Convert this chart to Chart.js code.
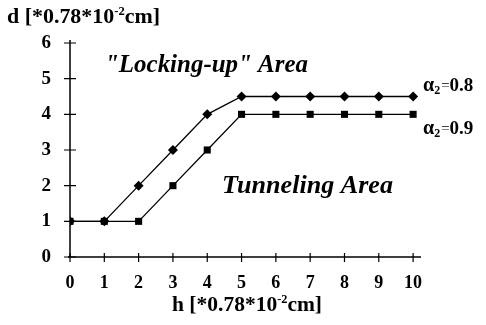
<!doctype html>
<html lang="en">
<head>
    <meta charset="utf-8">
    <title>Locking-up / Tunneling</title>
    <script src="https://cdn.jsdelivr.net/npm/chart.js"></script>
    <style>
        html, body { margin: 0; padding: 0; background: #fff; }
        #wrap { width: 486px; height: 325px; }
    </style>
</head>
<body>
    <div id="wrap"><canvas id="chartEl" width="486" height="325"></canvas></div>
    <script>
        // data
        const hValues = [0, 1, 2, 3, 4, 5, 6, 7, 8, 9, 10];
        const dAlpha08 = [1, 1, 2, 3, 4, 4.5, 4.5, 4.5, 4.5, 4.5, 4.5];
        const dAlpha09 = [1, 1, 1, 2, 3, 4, 4, 4, 4, 4, 4];
        const xTicks = [0, 1, 2, 3, 4, 5, 6, 7, 8, 9, 10];
        const yTicks = [0, 1, 2, 3, 4, 5, 6];
        const seriesLabels = ['0.8', '0.9'];

        const SERIF = '"Liberation Serif", "DejaVu Serif", serif';

        const toPoints = (ys) => hValues.map((x, i) => ({ x, y: ys[i] }));

        // text with a raised "-2" like 10^-2, stretched to a target width
        const drawUnitLabel = (ctx, prefix, x, y, align, width) => {
            const big = 'bold 21px ' + SERIF;
            const small = 'bold 12px ' + SERIF;
            const a = prefix + ' [*0.78*10';
            const b = '-2';
            const c = 'cm]';
            ctx.font = big; const wa = ctx.measureText(a).width; const wc = ctx.measureText(c).width;
            ctx.font = small; const wb = ctx.measureText(b).width;
            const total = wa + wb + wc;
            const k = width / total;
            const sx = align === 'center' ? x - width / 2 : x;
            ctx.save();
            ctx.translate(sx, y);
            ctx.scale(k, 1);
            ctx.textAlign = 'left';
            ctx.textBaseline = 'alphabetic';
            ctx.font = big; ctx.fillText(a, 0, 0);
            ctx.font = small; ctx.fillText(b, wa, -8);
            ctx.font = big; ctx.fillText(c, wa + wb, 0);
            ctx.restore();
        };

        const drawAlphaLabel = (ctx, val, x, y) => {
            ctx.textAlign = 'left';
            ctx.textBaseline = 'middle';
            ctx.font = 'bold 20px ' + SERIF;
            ctx.fillText('\u03b1', x, y);
            const w1 = ctx.measureText('\u03b1').width;
            ctx.font = 'bold 12px ' + SERIF;
            ctx.fillText('2', x + w1, y + 5);
            const w2 = ctx.measureText('2').width;
            ctx.font = '15px ' + SERIF;
            ctx.fillText('=', x + w1 + w2 + 1, y);
            const w3 = ctx.measureText('=').width;
            ctx.font = 'bold 19px ' + SERIF;
            ctx.fillText(val, x + w1 + w2 + w3 + 1, y);
        };

        const drawStretched = (ctx, text, x, y, width) => {
            const w = ctx.measureText(text).width;
            ctx.save();
            ctx.translate(x, y);
            ctx.scale(width / w, 1);
            ctx.fillText(text, 0, 0);
            ctx.restore();
        };

        const decorations = {
            id: 'decorations',
            afterDraw(chart) {
                const ctx = chart.ctx;
                const xs = chart.scales.x;
                const ys = chart.scales.y;
                const x0 = xs.getPixelForValue(0);
                const y0 = ys.getPixelForValue(0);
                ctx.save();
                ctx.strokeStyle = '#000';
                ctx.fillStyle = '#000';
                ctx.lineWidth = 1.5;
                // axes
                ctx.beginPath();
                ctx.moveTo(x0, ys.top);
                ctx.lineTo(x0, y0);
                ctx.moveTo(x0 - 2, y0);
                ctx.lineTo(xs.right, y0);
                ctx.stroke();
                // crossing tick marks
                ctx.lineWidth = 1.2;
                ctx.beginPath();
                xTicks.forEach((t) => {
                    const px = xs.getPixelForValue(t);
                    ctx.moveTo(px, y0 - 4);
                    ctx.lineTo(px, y0 + 5);
                });
                yTicks.forEach((t) => {
                    const py = ys.getPixelForValue(t);
                    ctx.moveTo(x0 - 6, py);
                    ctx.lineTo(x0 + 6, py);
                });
                ctx.stroke();

                // axis titles
                drawUnitLabel(ctx, 'd', 7, 23, 'left', 153);
                drawUnitLabel(ctx, 'h', 247, 311, 'center', 150);

                // area captions
                ctx.textAlign = 'left';
                ctx.textBaseline = 'alphabetic';
                ctx.font = 'italic bold 25px ' + SERIF;
                drawStretched(ctx, '"Locking-up" Area', 105, 72, 203);
                ctx.font = 'italic bold 25px ' + SERIF;
                drawStretched(ctx, 'Tunneling Area', 222, 193, 171);

                // series labels
                drawAlphaLabel(ctx, seriesLabels[0], 423, 86);
                drawAlphaLabel(ctx, seriesLabels[1], 423, 129);
                ctx.restore();
            }
        };

        const config = {
            type: 'line',
            data: {
                datasets: [
                    {
                        label: '\u03b12=' + seriesLabels[0],
                        data: toPoints(dAlpha08),
                        borderColor: '#000',
                        backgroundColor: '#000',
                        borderWidth: 1.3,
                        pointStyle: 'rectRot',
                        pointRadius: 5,
                        pointBorderWidth: 0,
                        fill: false,
                    },
                    {
                        label: '\u03b12=' + seriesLabels[1],
                        data: toPoints(dAlpha09),
                        borderColor: '#000',
                        backgroundColor: '#000',
                        borderWidth: 1.3,
                        pointStyle: 'rect',
                        pointRadius: 5,
                        pointBorderWidth: 0,
                        fill: false,
                    },
                ]
            },
            options: {
                responsive: false,
                animation: false,
                layout: { padding: { top: 40, right: 65, left: 0, bottom: 0 } },
                plugins: {
                    legend: { display: false },
                    tooltip: { enabled: false },
                },
                scales: {
                    x: {
                        type: 'linear',
                        min: 0,
                        max: 10.23,
                        grid: { display: false },
                        border: { display: false },
                        afterFit: (scale) => { scale.height = 68; },
                        afterBuildTicks: (scale) => { scale.ticks = xTicks.map((v) => ({ value: v })); },
                        ticks: {
                            padding: 8,
                            color: '#000',
                            font: { family: SERIF, size: 18, weight: 'bold' },
                            maxRotation: 0,
                        },
                    },
                    y: {
                        min: 0,
                        max: 6.084,
                        grid: { display: false },
                        border: { display: false },
                        afterFit: (scale) => { scale.width = 70; },
                        afterBuildTicks: (scale) => { scale.ticks = yTicks.map((v) => ({ value: v })); },
                        ticks: {
                            padding: 11,
                            color: '#000',
                            font: { family: SERIF, size: 19, weight: 'bold' },
                        },
                    },
                },
            },
            plugins: [decorations],
        };

        new Chart(document.getElementById('chartEl'), config);
    </script>
</body>
</html>
